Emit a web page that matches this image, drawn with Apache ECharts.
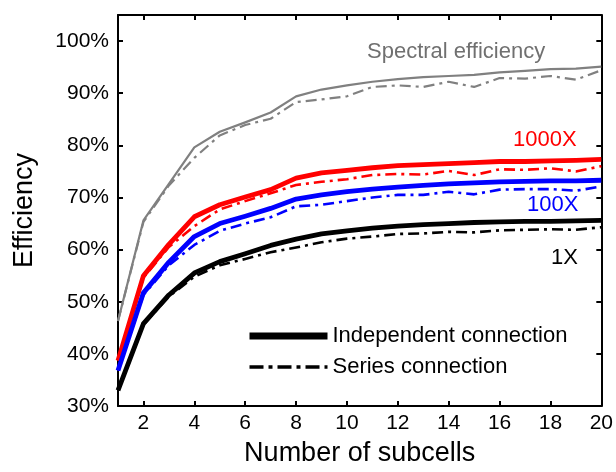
<!DOCTYPE html>
<html>
<head>
<meta charset="utf-8">
<script src="https://cdn.jsdelivr.net/npm/echarts@6/dist/echarts.min.js"></script>
<style>
  html, body { margin: 0; padding: 0; background: #fff; }
  #chart { width: 616px; height: 472px; }
</style>
</head>
<body>
<div id="chart"></div>
<script>
const subcells = [1, 2, 3, 4, 5, 6, 7, 8, 9, 10, 11, 12, 13, 14, 15, 16, 17, 18, 19, 20]

// efficiency in %
const spectralIndep = [46.3, 65.6, 72.6, 79.6, 82.6, 84.4, 86.3, 89.4, 90.7, 91.5, 92.2, 92.7, 93.1, 93.3, 93.5, 94.0, 94.3, 94.6, 94.7, 95.1]
const spectralSeries = [46.3, 65.3, 72.3, 77.6, 81.9, 83.9, 85.1, 88.3, 88.8, 89.4, 91.2, 91.5, 91.2, 92.2, 91.2, 92.9, 92.8, 93.3, 92.6, 94.4]

const x1000Indep = [38.7, 55.0, 61.0, 66.3, 68.6, 70.1, 71.5, 73.7, 74.7, 75.2, 75.7, 76.1, 76.3, 76.5, 76.7, 76.9, 76.9, 77.0, 77.1, 77.3]
const x1000Series = [38.7, 54.6, 60.5, 64.5, 67.7, 69.3, 70.8, 72.4, 73.0, 73.5, 74.3, 74.5, 74.4, 75.1, 74.3, 75.4, 75.3, 75.6, 75.0, 76.0]

const x100Indep = [36.8, 51.7, 57.6, 62.5, 65.0, 66.4, 67.9, 69.7, 70.5, 71.1, 71.6, 72.0, 72.3, 72.6, 72.8, 73.0, 73.1, 73.2, 73.2, 73.3]
const x100Series = [36.8, 51.3, 57.0, 60.9, 63.6, 65.0, 66.2, 68.3, 68.6, 69.3, 70.0, 70.5, 70.5, 71.1, 70.6, 71.5, 71.6, 71.6, 71.3, 72.1]

const x1Indep = [33.0, 45.8, 51.3, 55.5, 57.7, 59.2, 60.8, 62.0, 63.0, 63.6, 64.1, 64.5, 64.8, 65.0, 65.2, 65.3, 65.4, 65.4, 65.5, 65.6]
const x1Series = [33.0, 45.6, 51.0, 54.8, 57.0, 58.2, 59.5, 60.4, 61.4, 62.1, 62.5, 63.0, 63.1, 63.4, 63.3, 63.7, 63.8, 63.9, 63.8, 64.3]

const xTicks = [2, 4, 6, 8, 10, 12, 14, 16, 18, 20]
const yTicks = [30, 40, 50, 60, 70, 80, 90, 100]

const FONT = 'Liberation Sans'
const DASHDOT = [11, 5, 3, 5]

function pairs (vals) {
  return subcells.map((x, i) => [x, vals[i]])
}

function line (name, vals, color, width, dashed) {
  return {
    name: name,
    type: 'line',
    data: pairs(vals),
    showSymbol: false,
    symbol: 'none',
    silent: true,
    lineStyle: {
      color: color,
      width: width,
      type: dashed ? DASHDOT : 'solid',
      join: 'round'
    },
    itemStyle: { color: color }
  }
}

var chart = echarts.init(document.getElementById('chart'), null, { renderer: 'canvas' })

const axisCommon = {
  axisLine: { show: true, onZero: false, lineStyle: { color: '#000', width: 2 } },
  splitLine: { show: false }
}

var option = {
  animation: false,
  backgroundColor: '#fff',
  grid: { left: 118, right: 12, top: 15, bottom: 61 },
  xAxis: [{
    type: 'value',
    min: 1,
    max: 20,
    position: 'bottom',
    ...axisCommon,
    axisTick: { inside: true, length: 5, customValues: xTicks, lineStyle: { color: '#000', width: 2 } },
    axisLabel: { customValues: xTicks, color: '#000', fontSize: 21, fontFamily: FONT, margin: 7 },
    name: 'Number of subcells',
    nameLocation: 'middle',
    nameGap: 34,
    nameTextStyle: { color: '#000', fontSize: 27, fontFamily: FONT }
  }, {
    type: 'value',
    min: 1,
    max: 20,
    position: 'top',
    ...axisCommon,
    axisTick: { inside: true, length: 5, customValues: xTicks, lineStyle: { color: '#000', width: 2 } },
    axisLabel: { show: false }
  }],
  yAxis: [{
    type: 'value',
    min: 30,
    max: 105,
    position: 'left',
    ...axisCommon,
    axisTick: { inside: true, length: 5, customValues: yTicks, lineStyle: { color: '#000', width: 2 } },
    axisLabel: {
      customValues: yTicks,
      color: '#000',
      fontSize: 21,
      fontFamily: FONT,
      margin: 9,
      formatter: v => v + '%'
    },
    name: 'Efficiency',
    nameLocation: 'middle',
    nameRotate: 90,
    nameGap: 80,
    nameTextStyle: { color: '#000', fontSize: 27, fontFamily: FONT }
  }, {
    type: 'value',
    min: 30,
    max: 105,
    position: 'right',
    ...axisCommon,
    axisTick: { inside: true, length: 5, customValues: yTicks, lineStyle: { color: '#000', width: 2 } },
    axisLabel: { show: false }
  }],
  legend: {
    orient: 'vertical',
    left: 246,
    top: 325,
    padding: 0,
    itemWidth: 78,
    itemHeight: 24,
    itemGap: 9,
    selectedMode: false,
    itemStyle: { opacity: 0 },
    textStyle: { color: '#000', fontSize: 22, fontFamily: FONT },
    data: [
      { name: 'Independent connection', itemStyle: { opacity: 0 }, lineStyle: { width: 7, color: '#000', type: 'solid' } },
      { name: 'Series connection', itemStyle: { opacity: 0 }, lineStyle: { width: 3.5, color: '#000', type: [14, 5, 4, 5] } }
    ]
  },
  series: [
    line('Spectral series', spectralSeries, '#808080', 2.2, true),
    line('Spectral independent', spectralIndep, '#808080', 2.2, false),
    line('1000X series', x1000Series, '#ff0000', 2.6, true),
    line('1000X independent', x1000Indep, '#ff0000', 4.8, false),
    line('100X series', x100Series, '#0000ff', 2.6, true),
    line('100X independent', x100Indep, '#0000ff', 4.8, false),
    line('Series connection', x1Series, '#000', 2.6, true),
    line('Independent connection', x1Indep, '#000', 4.8, false)
  ],
  graphic: [
    { type: 'text', left: 367, top: 41, silent: true,
      style: { text: 'Spectral efficiency', fill: '#707070', font: '22px "Liberation Sans"' } },
    { type: 'text', left: 513, top: 129, silent: true,
      style: { text: '1000X', fill: '#ff0000', font: '22px "Liberation Sans"' } },
    { type: 'text', left: 527, top: 194, silent: true,
      style: { text: '100X', fill: '#0000ff', font: '22px "Liberation Sans"' } },
    { type: 'text', left: 551, top: 247, silent: true,
      style: { text: '1X', fill: '#000', font: '22px "Liberation Sans"' } }
  ]
}

chart.setOption(option)
</script>
</body>
</html>
